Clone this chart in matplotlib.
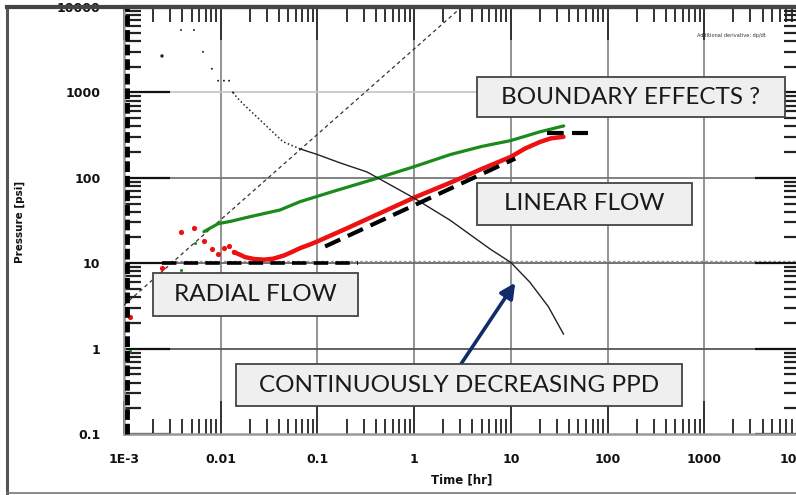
import numpy as np
import matplotlib
matplotlib.use("Agg")
import matplotlib.pyplot as plt
from matplotlib.patches import Rectangle
from matplotlib.lines import Line2D
from matplotlib.ticker import LogLocator, FixedLocator, FixedFormatter, NullFormatter

# ---------------- data ----------------
# early scattered points of the black PPD curve
ppd_scatter_t = [0.00247, 0.00388, 0.0053, 0.00655, 0.0081, 0.0094, 0.0108, 0.0122, 0.0134]
ppd_scatter_p = [2670, 5380, 5380, 2985, 1890, 1370, 1370, 1370, 1000]
# smooth part of the PPD curve
ppd_t = [0.0134, 0.015, 0.0178, 0.0255, 0.038, 0.044, 0.066, 0.099, 0.17, 0.326,
         0.98, 2.36, 6.13, 10.0, 15.7, 24.4, 35.0]
ppd_p = [1000, 850, 700, 476, 310, 265, 218, 188, 150, 117,
         58.6, 31.8, 14.6, 10.2, 6.0, 3.1, 1.48]

# pressure change (green)
dp_scatter_t = [0.00115, 0.0039, 0.0054]
dp_scatter_p = [0.95, 8.3, 17.4]
dp_t = [0.0067, 0.0094, 0.0128, 0.02, 0.041, 0.066, 0.15, 0.37, 0.98, 2.36, 5.0, 10.0, 19.9, 35.2]
dp_p = [23.4, 29, 31, 35, 42, 52.5, 70, 95, 134, 187, 233, 273, 345, 405]

# derivative (red)
der_scatter_t = [0.00115, 0.00247, 0.00388, 0.0053, 0.0067, 0.0081, 0.0094, 0.0108, 0.0122, 0.0137]
der_scatter_p = [2.36, 8.8, 23.4, 25.7, 18.2, 14.7, 12.9, 15.2, 16.0, 13.5]
der_t = [0.0137, 0.016, 0.0178, 0.022, 0.028, 0.035, 0.045, 0.055, 0.066, 0.083, 0.1,
         0.2, 0.4, 1.0, 2.5, 5.0, 10.0, 14.0, 20.0, 26.0, 35.0]
der_p = [13.5, 12.5, 11.8, 11.2, 11.0, 11.3, 12.3, 13.6, 15.0, 16.5, 18.0,
         25.5, 36.5, 58.6, 90, 127, 176, 220, 263, 290, 302]

# unit slope line
unit_t = [0.001, 3.1]
unit_p = [3.23, 10000]
# flow regime lines
radial_t = [0.0025, 0.26]
radial_p = [10, 10]
linear_t = [0.12, 11.1]
linear_p = [15.7, 168]
boundary_t = [23.5, 63]
boundary_p = [338, 338]
ref_level = 10.7
arrow_target = (11.1, 5.9)

x_ticks = [1e-3, 1e-2, 1e-1, 1, 10, 100, 1000, 10000]
x_labels = ["1E-3", "0.01", "0.1", "1", "10", "100", "1000", "10000"]
y_ticks = [0.1, 1, 10, 100, 1000, 10000]
y_labels = ["0.1", "1", "10", "100", "1000", "10000"]

# ---------------- figure ----------------
W, H = 796, 495
fig = plt.figure(figsize=(W / 100, H / 100), dpi=100)
fig.patch.set_facecolor("white")

def fx(px):
    return px / W

def fy(py):
    return 1 - py / H

ax = fig.add_axes([fx(124), fy(434), (801 - 124) / W, (434 - 7) / H])
ax.set_xscale("log")
ax.set_yscale("log")
ax.set_xlim(1e-3, 1e4)
ax.set_ylim(0.1, 1e4)

# grid lines
for xv in x_ticks[1:-1]:
    ax.axvline(xv, color="#8a8a8a", lw=1.3, zorder=1)
ygrid_colors = {1: "#555555", 10: "#666666", 100: "#777777", 1000: "#c8c8c8"}
for yv, c in ygrid_colors.items():
    ax.axhline(yv, color=c, lw=1.3, zorder=1)
ax.axhline(ref_level, xmin=0.068, color="#999999", lw=1.0, ls=(0, (2, 1.5)), zorder=1)

# unit slope line
ax.plot(unit_t, unit_p, color="#333333", lw=0.9, ls=(0, (3, 2.5)), zorder=3)

# green
ax.plot(dp_t, dp_p, color="#1a8a1a", lw=2.3, zorder=4, solid_capstyle="round")
ax.scatter(dp_scatter_t, dp_scatter_p, s=5, color="#1a8a1a", zorder=4, linewidths=0)

# red
ax.plot(der_t, der_p, color="#ee1111", lw=3.2, zorder=5, solid_capstyle="round")
ax.scatter(der_scatter_t, der_scatter_p, s=14, color="#ee1111", zorder=5, linewidths=0)

# black PPD
n_dot = 7
ax.plot(ppd_t[:n_dot], ppd_p[:n_dot], color="#222222", lw=1.1, ls=(0, (1, 1.6)), zorder=6)
ax.plot(ppd_t[n_dot - 1:], ppd_p[n_dot - 1:], color="#222222", lw=1.0, zorder=6)
ax.scatter(ppd_scatter_t, ppd_scatter_p, s=[6, 2, 2, 2, 2, 2, 2, 2, 2], color="#222222",
           zorder=6, linewidths=0)

# regime lines
dash = (0, (4, 2))
ax.plot(radial_t, radial_p, color="black", lw=2.6, ls=dash, zorder=7)
ax.plot(linear_t, linear_p, color="black", lw=3.0, ls=dash, zorder=7)
ax.plot(boundary_t, boundary_p, color="black", lw=3.0, ls=dash, zorder=7)

# ticks
ax.xaxis.set_major_locator(FixedLocator(x_ticks))
ax.xaxis.set_major_formatter(FixedFormatter(x_labels))
ax.yaxis.set_major_locator(FixedLocator(y_ticks))
ax.yaxis.set_major_formatter(FixedFormatter(y_labels))
ax.xaxis.set_minor_locator(LogLocator(base=10, subs=np.arange(2, 10), numticks=20))
ax.yaxis.set_minor_locator(LogLocator(base=10, subs=np.arange(2, 10), numticks=20))
ax.xaxis.set_minor_formatter(NullFormatter())
ax.yaxis.set_minor_formatter(NullFormatter())

ax.tick_params(axis="x", which="minor", direction="in", length=11, width=1.4,
               color="#333333", top=True, bottom=True)
ax.tick_params(axis="x", which="major", direction="in", length=24, width=1.4,
               color="#333333", top=True, bottom=True, pad=14)
ax.tick_params(axis="y", which="minor", direction="in", length=12, width=1.6,
               color="#222222", left=True, right=True)
ax.tick_params(axis="y", which="major", direction="in", length=33, width=1.6,
               color="#111111", left=True, right=True, pad=17)
for lab in ax.get_xticklabels() + ax.get_yticklabels():
    lab.set_fontweight("bold")
    lab.set_fontsize(9)
    lab.set_color("#111111")

for side in ["bottom", "left"]:
    ax.spines[side].set_color("#999999")
    ax.spines[side].set_linewidth(1.8)
ax.spines["top"].set_color("#444444")
ax.spines["top"].set_linewidth(3)
ax.spines["right"].set_visible(False)

# thick broken band along the left axis
ax.plot([0.004, 0.004], [0, 1], transform=ax.transAxes, color="black", lw=3.5,
        ls=(0, (2.2, 0.8)), zorder=8, clip_on=False)

# axis labels
fig.text(fx(20), fy(222), "Pressure [psi]", rotation=90, ha="center", va="center",
         fontsize=7.5, fontweight="bold", color="#111111")
fig.text(fx(462), fy(480), "Time [hr]", ha="center", va="center",
         fontsize=8.5, fontweight="bold", color="#111111")
fig.text(fx(731), fy(36), "Additional derivative: dp/dt", ha="center", va="center",
         fontsize=3.6, color="#333333")

# outer frame
fig.add_artist(Line2D([fx(7), fx(7)], [fy(7), fy(493)], color="#555555", lw=2.2))
fig.add_artist(Line2D([fx(7), fx(800)], [fy(493), fy(493)], color="#777777", lw=1.2))
fig.add_artist(Line2D([fx(7), fx(800)], [fy(7), fy(7)], color="#444444", lw=3))

# annotation boxes
font_box = "Lato"
def box(x0, y0, x1, y1, text):
    r = Rectangle((fx(x0), fy(y1)), fx(x1) - fx(x0), fy(y0) - fy(y1),
                  transform=fig.transFigure, facecolor="#efefef",
                  edgecolor="#444444", lw=1.3, zorder=20)
    fig.add_artist(r)
    fig.text(fx((x0 + x1) / 2), fy((y0 + y1) / 2), text, ha="center", va="center",
             fontsize=17.5, family=font_box, color="#1a1a1a", zorder=21)

box(477, 77, 785, 117, "BOUNDARY EFFECTS ?")
box(477, 183, 692, 225, "LINEAR FLOW")
box(153, 273, 358, 316, "RADIAL FLOW")
box(236, 364, 682, 406, "CONTINUOUSLY DECREASING PPD")

# arrow
ax.annotate("", xy=arrow_target, xycoords="data",
            xytext=(fx(461), fy(364)), textcoords="figure fraction",
            arrowprops=dict(arrowstyle="-|>,head_length=0.9,head_width=0.45",
                            color="#102c6a", lw=2.6, shrinkA=0, shrinkB=0),
            zorder=22)

fig.savefig("out.png", dpi=100)
